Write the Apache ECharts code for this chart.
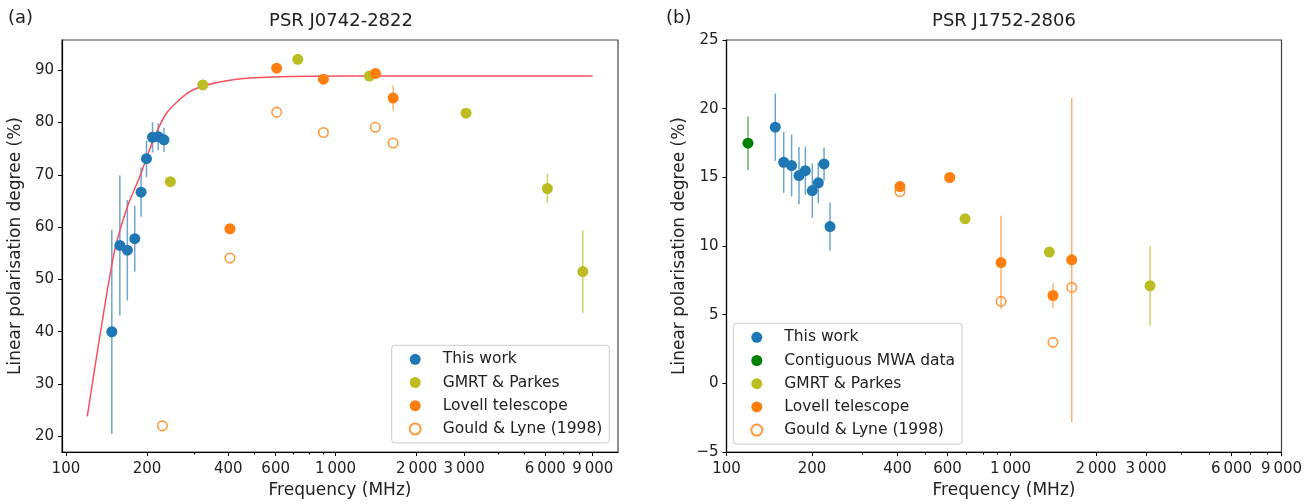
<!DOCTYPE html>
<html>
<head>
<meta charset="utf-8">
<title>Linear polarisation degree vs frequency</title>
<script src="https://cdn.jsdelivr.net/npm/echarts@6/dist/echarts.min.js"></script>
<style>
  html, body { margin: 0; padding: 0; background: #fff; }
  #chart { width: 1313px; height: 504px; }
</style>
</head>
<body>
<div id="chart"></div>
<script>
// panel (a) PSR J0742-2822
const aWorkFreq = [148, 158.5, 169, 180, 190, 199, 209.5, 220, 231]
const aWorkVal = [40.0, 56.5, 55.6, 57.8, 66.7, 73.1, 77.2, 77.3, 76.7]
const aWorkErr = [19.5, 13.4, 9.6, 6.3, 4.7, 3.5, 2.9, 2.6, 2.3]

const aGmrtFreq = [244, 322, 725, 1336, 3050, 6110, 8270]
const aGmrtVal = [68.7, 87.2, 92.1, 88.9, 81.8, 67.4, 51.5]
const aGmrtErr = [0, 0, 0, 0, 0, 2.8, 7.9]

const aLovellFreq = [406, 605, 902, 1407, 1636]
const aLovellVal = [59.7, 90.4, 88.3, 89.4, 84.7]
const aLovellErr = [0, 0, 0, 0, 2.4]

const aGouldFreq = [228, 406, 605, 902, 1404, 1636]
const aGouldVal = [22.0, 54.1, 82.0, 78.1, 79.1, 76.1]

// fitted curve
const aFitFreq = [120, 150, 169, 188, 211, 236, 280, 323, 417, 586, 1127, 9000]
const aFitVal = [23.8, 54.4, 63.9, 69.7, 76.7, 81.8, 85.5, 87.0, 88.2, 88.7, 88.9, 88.9]

// panel (b) PSR J1752-2806
const bWorkFreq = [148.5, 159, 169.5, 180, 189.5, 200.5, 210.5, 220.5, 231.5]
const bWorkVal = [18.65, 16.1, 15.86, 15.13, 15.49, 14.04, 14.6, 15.98, 11.42]
const bWorkErr = [2.45, 2.22, 2.25, 2.08, 1.76, 1.98, 1.48, 1.2, 1.75]

const bMwaFreq = [119]
const bMwaVal = [17.49]
const bMwaErr = [1.95]

const bGmrtFreq = [692, 1370, 3100]
const bGmrtVal = [11.98, 9.56, 7.11]
const bGmrtErr = [0, 0, 2.9]

const bLovellFreq = [408, 611, 926, 1411, 1643]
const bLovellVal = [14.33, 14.99, 8.8, 6.4, 9.0]
const bLovellErr = [0.4, 0, 3.4, 0.9, 11.8]

const bGouldFreq = [408, 926, 1411, 1643]
const bGouldVal = [13.97, 5.97, 2.99, 6.99]

// axes
const xMajorTicks = [100, 200, 400, 600, 1000, 2000, 3000, 6000, 9000]
const xMinorTicks = [300, 500, 700, 800, 900, 4000, 5000, 7000, 8000]
const aYTicks = [20, 30, 40, 50, 60, 70, 80, 90]

const FONT = "DejaVu Sans"
const BLUE = "#1f77b4"
const OLIVE = "#bcbd22"
const ORANGE = "#ff7f0e"
const GREEN = "#008000"

const chart = echarts.init(document.getElementById("chart"))

const fmtFreq = v => (v >= 1000 ? String(v).replace(/(\d{3})$/, "\u2009$1") : String(v))
const fmtPct = v => (v < 0 ? "\u2212" + Math.abs(v) : String(v))

const points = (f, v) => f.map((x, i) => [x, v[i]])
const bars = (f, v, e) => f.map((x, i) => [x, v[i] - e[i], v[i] + e[i]]).filter((d, i) => e[i] > 0)

const renderBar = (params, api) => {
  const lo = api.coord([api.value(0), api.value(1)])
  const hi = api.coord([api.value(0), api.value(2)])
  return {
    type: "line",
    shape: { x1: lo[0], y1: lo[1], x2: hi[0], y2: hi[1] },
    style: { stroke: api.visual("color"), lineWidth: 1.5 }
  }
}

const tickText = { fontFamily: FONT, fontSize: 15, color: "#222" }
const nameText = { fontFamily: FONT, fontSize: 17, color: "#222" }

const freqAxis = (gridIndex, min, max) => ({
  type: "log",
  gridIndex,
  position: "bottom",
  min,
  max,
  name: "Frequency (MHz)",
  nameLocation: "middle",
  nameGap: 28,
  nameTextStyle: nameText,
  axisLine: { onZero: false, lineStyle: { color: "#000", width: 1.2 } },
  axisTick: { customValues: xMajorTicks, length: 4, lineStyle: { color: "#000" } },
  axisLabel: { customValues: xMajorTicks, formatter: fmtFreq, margin: 10, ...tickText },
  splitLine: { show: false }
})

const minorAxis = (gridIndex, min, max) => ({
  type: "log",
  gridIndex,
  position: "bottom",
  min,
  max,
  axisLine: { show: false, onZero: false },
  axisTick: { customValues: xMinorTicks, length: 2.5, lineStyle: { color: "#000" } },
  axisLabel: { show: false },
  splitLine: { show: false }
})

const pctAxis = extra => ({
  type: "value",
  position: "left",
  name: "Linear polarisation degree (%)",
  nameLocation: "middle",
  nameGap: 38,
  nameTextStyle: nameText,
  axisLine: { show: true, onZero: false, lineStyle: { color: "#000", width: 1.2 } },
  axisTick: { show: true, length: 4, lineStyle: { color: "#000" } },
  axisLabel: { margin: 8, formatter: fmtPct, ...tickText },
  splitLine: { show: false },
  ...extra
})

const errSeries = (name, xi, yi, data, color) => ({
  type: "custom",
  name,
  xAxisIndex: xi,
  yAxisIndex: yi,
  renderItem: renderBar,
  encode: { x: 0, y: [1, 2] },
  itemStyle: { color },
  data,
  z: 1,
  silent: true
})

const dotSeries = (name, xi, yi, data, color, z = 3) => ({
  type: "scatter",
  name,
  xAxisIndex: xi,
  yAxisIndex: yi,
  symbol: "circle",
  symbolSize: 11,
  itemStyle: { color, opacity: 1 },
  data,
  z
})

const ringSeries = (name, xi, yi, data) => ({
  type: "scatter",
  name,
  xAxisIndex: xi,
  yAxisIndex: yi,
  symbol: "circle",
  symbolSize: 9.5,
  itemStyle: { color: "rgba(255,255,255,0)", borderColor: ORANGE, borderWidth: 1.6 },
  data,
  z: 2
})

const legendBox = (left, top, names) => ({
  orient: "vertical",
  left,
  top,
  data: names.map(n => ({ name: n, icon: "circle" })),
  itemWidth: 11,
  itemHeight: 11,
  itemGap: 7.2,
  padding: [6, 7, 6, 17],
  backgroundColor: "rgba(255,255,255,0.85)",
  borderColor: "#cccccc",
  borderWidth: 1,
  borderRadius: 3,
  selectedMode: false,
  textStyle: { fontFamily: FONT, fontSize: 15.5, color: "#222", lineHeight: 16, padding: [0, 0, 0, 17] }
})

chart.setOption({
  animation: false,
  backgroundColor: "#fff",
  title: [
    { text: "PSR J0742-2822", left: 341, top: 12, textAlign: "center", padding: 0,
      textStyle: { fontFamily: FONT, fontSize: 18, fontWeight: "normal", color: "#222" } },
    { text: "PSR J1752-2806", left: 1004, top: 12, textAlign: "center", padding: 0,
      textStyle: { fontFamily: FONT, fontSize: 18, fontWeight: "normal", color: "#222" } },
    { text: "(a)", left: 8, top: 9, padding: 0,
      textStyle: { fontFamily: FONT, fontSize: 18, fontWeight: "normal", color: "#222" } },
    { text: "(b)", left: 666, top: 9, padding: 0,
      textStyle: { fontFamily: FONT, fontSize: 18, fontWeight: "normal", color: "#222" } }
  ],
  grid: [
    { left: 62, top: 40, width: 556, height: 412, show: true, borderColor: "#444", borderWidth: 1.2 },
    { left: 726.5, top: 40, width: 555, height: 412.5, show: true, borderColor: "#444", borderWidth: 1.2 }
  ],
  xAxis: [
    freqAxis(0, 96.7, 11170),
    minorAxis(0, 96.7, 11170),
    freqAxis(1, 100, 9000),
    minorAxis(1, 100, 9000)
  ],
  yAxis: [
    pctAxis({
      gridIndex: 0,
      min: 17,
      max: 95.8,
      axisTick: { show: true, length: 4, customValues: aYTicks, lineStyle: { color: "#000" } },
      axisLabel: { margin: 8, customValues: aYTicks, formatter: fmtPct, ...tickText }
    }),
    pctAxis({ gridIndex: 1, min: -5, max: 25, interval: 5 })
  ],
  legend: [
    legendBox(391.7, 345.3, ["This work", "GMRT & Parkes", "Lovell telescope", "Gould & Lyne (1998)"]),
    legendBox(733.3, 323.3, ["This work", "Contiguous MWA data", "GMRT & Parkes", "Lovell telescope", "Gould & Lyne (1998)"])
  ],
  series: [
    // (a)
    {
      type: "line",
      name: "fit",
      xAxisIndex: 0,
      yAxisIndex: 0,
      data: points(aFitFreq, aFitVal),
      showSymbol: false,
      smooth: 0.25,
      lineStyle: { color: "#f4525e", width: 1.5 },
      z: 2,
      silent: true
    },
    errSeries("a work err", 0, 0, bars(aWorkFreq, aWorkVal, aWorkErr), "rgba(31,119,180,0.65)"),
    errSeries("a gmrt err", 0, 0, bars(aGmrtFreq, aGmrtVal, aGmrtErr), "rgba(188,189,34,0.7)"),
    errSeries("a lovell err", 0, 0, bars(aLovellFreq, aLovellVal, aLovellErr), "rgba(255,127,14,0.6)"),
    dotSeries("This work", 0, 0, points(aWorkFreq, aWorkVal), BLUE),
    dotSeries("GMRT & Parkes", 0, 0, points(aGmrtFreq, aGmrtVal), OLIVE),
    dotSeries("Lovell telescope", 0, 0, points(aLovellFreq, aLovellVal), ORANGE, 4),
    ringSeries("Gould & Lyne (1998)", 0, 0, points(aGouldFreq, aGouldVal)),
    // (b)
    errSeries("b work err", 2, 1, bars(bWorkFreq, bWorkVal, bWorkErr), "rgba(31,119,180,0.65)"),
    errSeries("b mwa err", 2, 1, bars(bMwaFreq, bMwaVal, bMwaErr), "rgba(0,128,0,0.6)"),
    errSeries("b gmrt err", 2, 1, bars(bGmrtFreq, bGmrtVal, bGmrtErr), "rgba(188,189,34,0.7)"),
    errSeries("b lovell err", 2, 1, bars(bLovellFreq, bLovellVal, bLovellErr), "rgba(255,127,14,0.6)"),
    dotSeries("This work", 2, 1, points(bWorkFreq, bWorkVal), BLUE),
    dotSeries("Contiguous MWA data", 2, 1, points(bMwaFreq, bMwaVal), GREEN),
    dotSeries("GMRT & Parkes", 2, 1, points(bGmrtFreq, bGmrtVal), OLIVE),
    dotSeries("Lovell telescope", 2, 1, points(bLovellFreq, bLovellVal), ORANGE, 4),
    ringSeries("Gould & Lyne (1998)", 2, 1, points(bGouldFreq, bGouldVal))
  ]
})

window.addEventListener("resize", () => {
  chart && chart.resize()
})
</script>
</body>
</html>
